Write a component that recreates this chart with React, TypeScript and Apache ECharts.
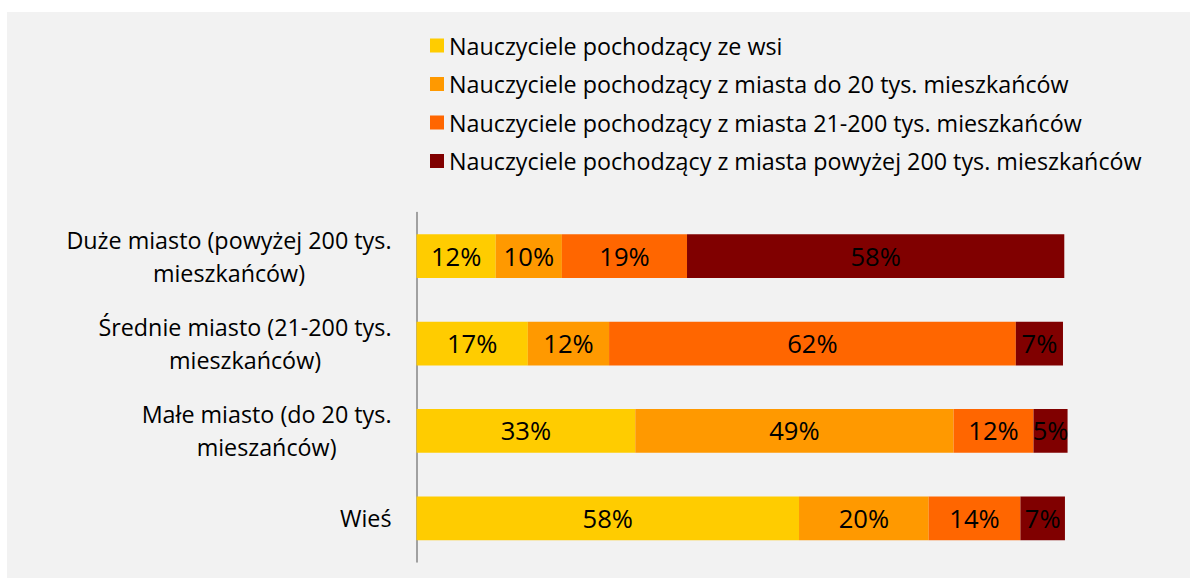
import React, { useEffect, useRef } from "react";
import * as echarts from "echarts";

const categories = [
  "Duże miasto (powyżej 200 tys.\nmieszkańców)",
  "Średnie miasto (21-200 tys.\nmieszkańców)",
  "Małe miasto (do 20 tys.\nmieszańców)",
  "Wieś",
];

const seriesNames = [
  "Nauczyciele pochodzący ze wsi",
  "Nauczyciele pochodzący z miasta do 20 tys. mieszkańców",
  "Nauczyciele pochodzący z miasta 21-200 tys. mieszkańców",
  "Nauczyciele pochodzący z miasta powyżej 200 tys. mieszkańców",
];

const fromVillage = [12.1, 17.0, 33.4, 58.4];
const fromTownUpTo20k = [10.1, 12.4, 48.6, 19.8];
const fromCity21to200k = [19.1, 62.1, 12.2, 14.0];
const fromCityOver200k = [57.6, 7.2, 5.2, 6.8];

const seriesValues = [fromVillage, fromTownUpTo20k, fromCity21to200k, fromCityOver200k];
const colors = ["#FFCC00", "#FF9900", "#FF6600", "#800000"];

const FONT = "'Open Sans', sans-serif";

function fitFontSize(): number {
  try {
    const c = document.createElement("canvas");
    const ctx = c.getContext("2d");
    if (!ctx) return 20.5;
    ctx.font = `100px 'Open Sans'`;
    const w = ctx.measureText(seriesNames[3]).width;
    const size = (692 / w) * 100;
    if (!isFinite(size) || size < 10 || size > 40) return 20.5;
    return Math.round(size * 10) / 10;
  } catch (e) {
    return 20.5;
  }
}

export default function App() {
  const ref = useRef<HTMLDivElement>(null);

  useEffect(() => {
    if (!ref.current) return;
    const chart = echarts.init(ref.current, undefined, { renderer: "svg" });
    const fs = fitFontSize();
    const labelFs = Math.round(fs * 1.1 * 10) / 10;

    chart.setOption({
      animation: false,
      backgroundColor: "transparent",
      textStyle: { fontFamily: FONT },
      legend: {
        orient: "vertical",
        left: 430,
        top: 31.5,
        padding: 0,
        itemWidth: 14,
        itemHeight: 14,
        itemGap: 10.5,
        icon: "rect",
        selectedMode: false,
        data: seriesNames,
        textStyle: { fontSize: fs, fontFamily: FONT, color: "#000", lineHeight: 28 },
      },
      grid: { left: 416.5, right: 118.5, top: 212.5, bottom: 16, containLabel: false },
      xAxis: {
        type: "value",
        min: 0,
        max: 100,
        show: false,
        splitLine: { show: false },
      },
      yAxis: {
        type: "category",
        inverse: true,
        data: categories,
        axisTick: { show: false },
        axisLine: { show: true, lineStyle: { color: "#868686", width: 1.5 } },
        axisLabel: {
          margin: 25,
          align: "right",
          color: "#000",
          fontSize: fs,
          fontFamily: FONT,
          lineHeight: 33,
          formatter: (v: string) =>
            v
              .split("\n")
              .map((l) => `{c|${l}}`)
              .join("\n"),
          rich: {
            c: { align: "center", fontSize: fs, fontFamily: FONT, lineHeight: 33, color: "#000" },
          },
        },
      },
      series: seriesNames.map((name, i) => ({
        name,
        type: "bar",
        stack: "total",
        barCategoryGap: "50%",
        data: seriesValues[i],
        itemStyle: { color: colors[i] },
        label: {
          show: true,
          position: "inside",
          color: "#000",
          fontSize: labelFs,
          fontFamily: FONT,
          formatter: (p: any) => `${Math.round(p.value)}%`,
        },
        emphasis: { disabled: true },
      })),
    });

    return () => chart.dispose();
  }, []);

  return (
    <div style={{ position: "fixed", left: 0, top: 0, width: 1190, height: 578, background: "#ffffff" }}>
      <div style={{ position: "absolute", left: 7, top: 12, right: 0, bottom: 0, background: "#F2F2F2" }} />
      <div ref={ref} style={{ position: "absolute", left: 0, top: 0, width: 1190, height: 578 }} />
    </div>
  );
}
